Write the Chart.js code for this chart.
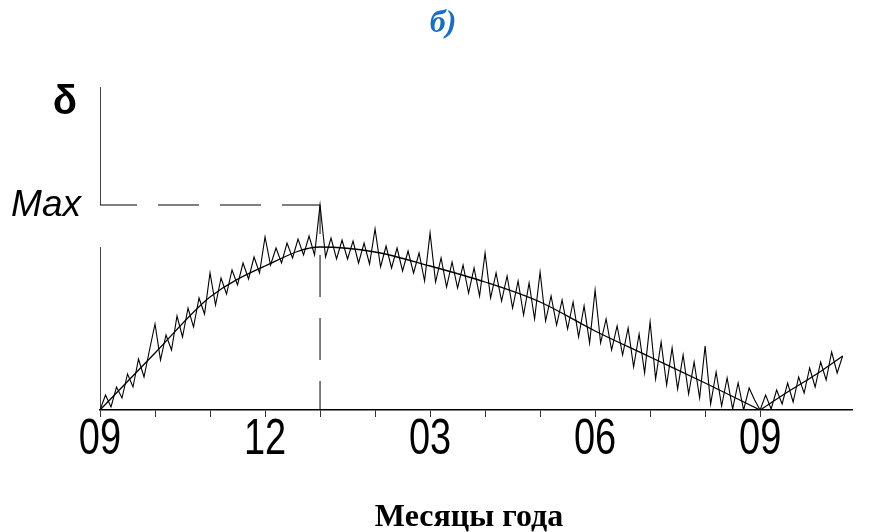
<!DOCTYPE html>
<html><head><meta charset="utf-8">
<script src="https://cdn.jsdelivr.net/npm/chart.js@4"></script>
<style>html,body{margin:0;padding:0;background:#fff;}#wrap{width:873px;height:532px;position:relative;}</style>
</head><body><div id="wrap"><canvas id="c" width="873" height="532"></canvas></div>
<script>
// Observed deviation (zig-zag), one point every 0.1 month starting at month 0 (September)
const zigzagValues = [
  0,15,3,23,12,36,23,51,33,60,
  86,50,75,60,94,73,102,83,112,96,
  137,105,132,116,140,125,147,131,153,137,
  173,145,162,147,167,152,171,155,174,155,
  205,153,172,151,170,151,169,147,167,146,
  181,143,164,142,162,139,159,137,157,129,
  177,128,152,123,148,122,145,117,142,114,
  157,112,137,109,134,102,129,95,127,91,
  138,89,114,85,110,81,108,73,104,67,
  120,67,91,60,84,55,82,43,76,37,
  88,31,68,25,62,21,55,16,48,12,
  64,6,38,4,32,1,27,0,22,10,
  0,15,1,20,6,27,8,33,17,42,
  23,48,30,58,37,54
];
const zigzagStep = 0.1;
// Smoothed trend
const smoothFallMonths = [0,1,2,3,4,5,6,7,8,9,10,11,12];
const smoothFallValues = [0,57,113,144,163,158,144,128,108,79,53,27,0];
const smoothRiseMonths = [12,12.5,13,13.5];
const smoothRiseValues = [0,18,35,54];
// Axis
const monthTicks = [0,1,2,3,4,5,6,7,8,9,10,11,12];
const tickLabels = ['09','','','12','','','03','','','06','','','09'];
const maxValue = 205;
const maxMonth = 4;
const yAxisTop = 323;
const xAxisEnd = 13.67;
const yAxisGap = [163, 205];

const zigzagData = zigzagValues.map((v,i)=>({x:+(i*zigzagStep).toFixed(2), y:v}));
const fallData = smoothFallMonths.map((m,i)=>({x:m,y:smoothFallValues[i]}));
const riseData = smoothRiseMonths.map((m,i)=>({x:m,y:smoothRiseValues[i]}));

const annot = {
  id:'annot',
  beforeDatasetsDraw(chart){
    const {ctx, chartArea, scales:{x,y}} = chart;
    ctx.save();
    ctx.strokeStyle = '#444'; ctx.lineWidth = 1;
    const xl = Math.round(chartArea.left)+0.5;
    ctx.beginPath();
    ctx.moveTo(xl, y.getPixelForValue(yAxisTop));
    ctx.lineTo(xl, y.getPixelForValue(yAxisGap[1]));
    ctx.moveTo(xl, y.getPixelForValue(yAxisGap[0]));
    ctx.lineTo(xl, y.getPixelForValue(0));
    ctx.stroke();
    ctx.restore();
  },
  afterDraw(chart){
    const {ctx, chartArea, scales:{x,y}} = chart;
    ctx.save();
    ctx.fillStyle = '#000';
    // condensed month tick labels
    ctx.textAlign = 'center'; ctx.textBaseline = 'middle';
    ctx.font = '50px "Liberation Sans", Arial, sans-serif';
    monthTicks.forEach((m,i)=>{
      if(!tickLabels[i]) return;
      ctx.save();
      ctx.translate(x.getPixelForValue(m), chartArea.bottom + 30);
      ctx.scale(0.76, 1);
      ctx.fillText(tickLabels[i], 0, 0);
      ctx.restore();
    });
    ctx.textAlign = 'right';
    ctx.font = 'italic 37px "Liberation Sans", Arial, sans-serif';
    ctx.fillText('Max', chartArea.left - 19, y.getPixelForValue(maxValue) + 1);
    ctx.textAlign = 'center';
    ctx.font = 'bold 40px "Liberation Sans", Arial, sans-serif';
    ctx.fillText('δ', chartArea.left - 35, y.getPixelForValue(yAxisTop) + 16);
    ctx.font = 'bold 32px "Liberation Serif", "Times New Roman", serif';
    ctx.fillText('Месяцы года', 469, 518);
    ctx.fillStyle = '#1a6ec2';
    ctx.font = 'bold italic 32px "Liberation Serif", "Times New Roman", serif';
    ctx.fillText('б)', 443, 24);
    ctx.restore();
  }
};

new Chart(document.getElementById('c'), {
  type:'line',
  data:{datasets:[
    {data:zigzagData, borderColor:'#000', borderWidth:1.1, pointRadius:0, tension:0},
    {data:fallData, borderColor:'#000', borderWidth:1.3, pointRadius:0, cubicInterpolationMode:'monotone'},
    {data:riseData, borderColor:'#000', borderWidth:1.3, pointRadius:0, cubicInterpolationMode:'monotone'},
    {data:[{x:0,y:maxValue},{x:maxMonth,y:maxValue}], borderColor:'#000', borderWidth:1, pointRadius:0, borderDash:[41,21], borderDashOffset:4},
    {data:[{x:maxMonth,y:maxValue},{x:maxMonth,y:0}], borderColor:'#000', borderWidth:1, pointRadius:0, borderDash:[42,21], borderDashOffset:13}
  ]},
  options:{
    responsive:false, animation:false, devicePixelRatio:1,
    layout:{padding:{left:100,right:21,top:87,bottom:0}},
    plugins:{legend:{display:false}, tooltip:{enabled:false}},
    scales:{
      y:{display:false, min:0, max:yAxisTop},
      x:{type:'linear', min:0, max:xAxisEnd,
        afterBuildTicks(s){ s.ticks = monthTicks.map(v=>({value:v})); },
        afterFit(s){ s.height = 122; },
        ticks:{autoSkip:false, maxRotation:0, padding:0, callback:()=>''},
        grid:{display:true, drawOnChartArea:false, drawTicks:true, tickLength:7, color:'#333', lineWidth:1},
        border:{display:true, color:'#000', width:1.5}
      }
    }
  },
  plugins:[annot]
});
</script></body></html>
